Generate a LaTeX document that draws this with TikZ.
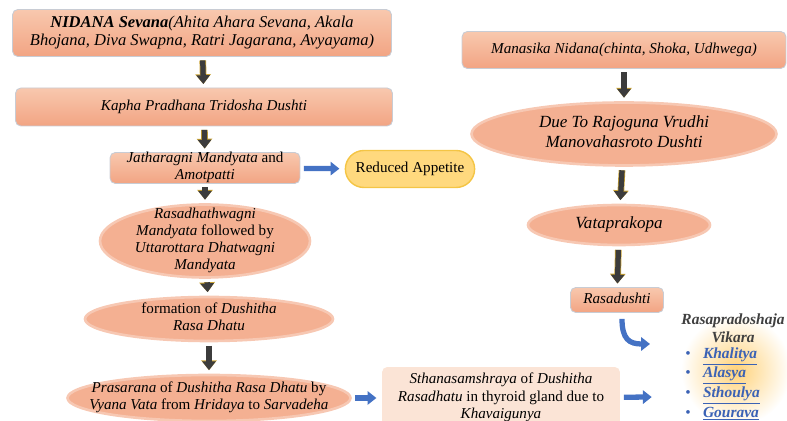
\documentclass[tikz,border=0pt]{standalone}
\usepackage{fontspec}
\setmainfont{Liberation Serif}
\usetikzlibrary{positioning,arrows.meta,shapes.geometric,shapes.misc}

\definecolor{salmontop}{HTML}{F8C8AE}
\definecolor{salmonbot}{HTML}{F2A483}
\definecolor{salmon}{HTML}{F4B092}
\definecolor{boxline}{HTML}{C8CCD4}
\definecolor{appfill}{HTML}{FFD97E}
\definecolor{appline}{HTML}{F4C545}
\definecolor{peach}{HTML}{FBE4D6}
\definecolor{arrowgray}{HTML}{3C3C3C}
\definecolor{arrowrim}{HTML}{C9A232}
\definecolor{arrowblue}{HTML}{4472C4}
\definecolor{listblue}{HTML}{3B62B5}
\definecolor{glow}{HTML}{FFD27A}
\definecolor{titlegray}{HTML}{404040}

% text block that does not change the size of its node
\newcommand{\flowtext}[1]{\raisebox{-0.45em}{\makebox[0pt]{\smash{\begin{tabular}{@{}c@{}}#1\end{tabular}}}}}

\begin{document}
\begin{tikzpicture}[x=0.02cm, y=-0.02cm,
        font=\fontsize{8.6}{10.2}\selectfont,
        box/.style = {rectangle, rounded corners=3pt,
            draw=boxline, line width=0.5pt,
            top color=salmontop, bottom color=salmonbot,
        },
        oval/.style = {ellipse,
            fill=salmon, draw=salmon!70, line width=1.5pt,
        },
        big/.style = {font=\fontsize{9.7}{11.6}\selectfont},
        down/.style = {draw=arrowgray, line width=3pt,
            -{Triangle[width=7.5pt,length=5pt]},
            shorten <=2pt, shorten >=2pt,
            preaction={draw=arrowrim, line width=3.8pt,
                -{Triangle[width=8.6pt,length=5.6pt]}},
        },
        side/.style = {draw=arrowblue, line width=3pt,
            -{Triangle[width=7.5pt,length=5pt]},
            shorten <=2pt, shorten >=3pt,
        }]

        \useasboundingbox (0,0) rectangle (787,421);

        % Left column
        \node[box, minimum width=7.58cm, minimum height=0.94cm,
            font=\fontsize{9.4}{10.2}\selectfont] (nidana) at (202,33)
            {\flowtext{\textit{\textbf{NIDANA Sevana}(Ahita Ahara Sevana, Akala}\\
             \textit{Bhojana, Diva Swapna, Ratri Jagarana, Avyayama)}}};
        \node[box, minimum width=7.54cm, minimum height=0.76cm] (kapha) at (204,107)
            {\flowtext{\textit{Kapha Pradhana Tridosha Dushti}}};
        \node[box, minimum width=3.8cm, minimum height=0.62cm] (jathar) at (205,168)
            {\flowtext{\textit{Jatharagni Mandyata} and\\ \textit{Amotpatti}}};
        \node[oval, minimum width=4.2cm, minimum height=1.46cm,
            font=\fontsize{8.6}{9.6}\selectfont] (rasadhatu) at (205,241)
            {\flowtext{\textit{Rasadhathwagni}\\ \textit{Mandyata} followed by\\
             \textit{Uttarottara Dhatwagni}\\ \textit{Mandyata}}};
        \node[oval, minimum width=4.96cm, minimum height=0.88cm] (formation) at (209,319)
            {\flowtext{formation of \textit{Dushitha}\\ \textit{Rasa Dhatu}}};
        \node[oval, minimum width=5.66cm, minimum height=0.92cm] (prasarana) at (209,398)
            {\flowtext{\textit{Prasarana} of \textit{Dushitha Rasa Dhatu} by\\
             \textit{Vyana Vata} from \textit{Hridaya} to \textit{Sarvadeha}}};

        % Side nodes
        \node[rounded rectangle, fill=appfill, draw=appline, line width=0.8pt,
            minimum width=2.82cm, minimum height=0.74cm] (appetite) at (410,169)
            {\flowtext{Reduced Appetite}};
        \node[rectangle, rounded corners=3pt, fill=peach,
            minimum width=4.76cm, minimum height=1.24cm] (sthana) at (501,398)
            {\flowtext{\textit{Sthanasamshraya} of \textit{Dushitha}\\
             \textit{Rasadhatu} in thyroid gland due to\\ \textit{Khavaigunya}}};

        % Right column
        \node[box, minimum width=6.48cm, minimum height=0.74cm] (manasika) at (624,50)
            {\flowtext{\textit{Manasika Nidana(chinta, Shoka, Udhwega)}}};
        \node[oval, big, minimum width=6.1cm, minimum height=1.26cm] (rajoguna) at (624,134)
            {\flowtext{\textit{Due To Rajoguna Vrudhi}\\ \textit{Manovahasroto Dushti}}};
        \node[oval, big, minimum width=3.64cm, minimum height=0.8cm] (vata) at (619,225)
            {\flowtext{\textit{Vataprakopa}}};
        \node[box, minimum width=1.86cm, minimum height=0.5cm] (rasadushti) at (617,300)
            {\flowtext{\textit{Rasadushti}}};

        % Vikara list
        \shade[inner color=glow, outer color=white] (736,370) circle (1.1cm);
        \node[text=titlegray, font=\fontsize{8.8}{10.2}\selectfont\bfseries\itshape]
            (vtitle) at (733,330) {\flowtext{Rasapradoshaja\\ Vikara}};
        \node[text=listblue, anchor=west, inner sep=0pt,
            font=\fontsize{8.8}{10.4}\selectfont] (vlist) at (685,384)
            {\begin{tabular}{@{}l@{\hspace{7pt}}l@{}}
             \textbullet & \underline{\textbf{\textit{Khalitya}}}\\
             \textbullet & \underline{\textbf{\textit{Alasya}}}\\
             \textbullet & \underline{\textbf{\textit{Sthoulya}}}\\
             \textbullet & \underline{\textbf{\textit{Gourava}}}
             \end{tabular}};

        % Arrows
        \draw[down] (nidana) -- (kapha);
        \draw[down] (kapha) -- (jathar);
        \draw[down] (jathar) -- (rasadhatu);
        \draw[down] (rasadhatu) -- (formation);
        \draw[down] (formation) -- (prasarana);
        \draw[down] (manasika) -- (rajoguna);
        \draw[down] (rajoguna) -- (vata);
        \draw[down] (vata) -- (rasadushti);

        \draw[side] (jathar) -- (appetite);
        \draw[side] (prasarana) -- (sthana);
        \coordinate (vin) at (657,397);
        \draw[side] (sthana) -- (vin);
        \coordinate (vturn) at (650,344);
        \draw[side, shorten <=0pt, shorten >=0pt]
            ([xshift=0.1cm,yshift=-0.12cm]rasadushti.south)
            to[out=-90,in=180,looseness=1.4] (vturn);

    \end{tikzpicture}
\end{document}
